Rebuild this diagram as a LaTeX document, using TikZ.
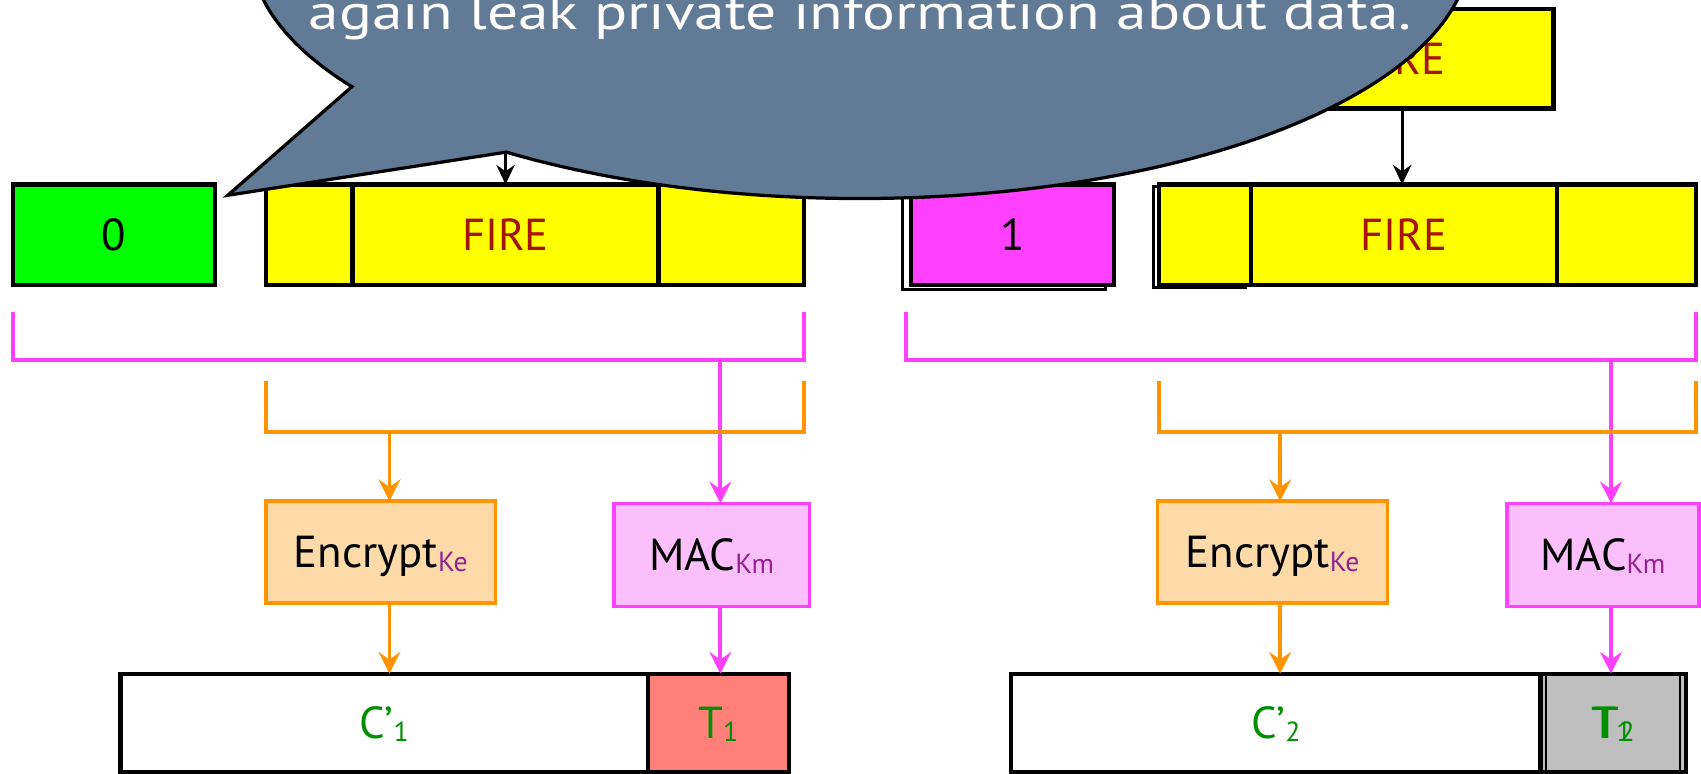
\documentclass[tikz,border=0pt]{standalone}
\usepackage{fontspec}
\setmainfont{PT Sans}
\usetikzlibrary{arrows.meta,calc}

\definecolor{kgreen}{RGB}{0,255,0}
\definecolor{kyellow}{RGB}{255,255,0}
\definecolor{kmagenta}{RGB}{255,64,255}
\definecolor{korange}{RGB}{255,147,0}
\definecolor{kpeach}{RGB}{253,218,168}
\definecolor{kpink}{RGB}{251,191,251}
\definecolor{kred}{RGB}{165,20,0}
\definecolor{ksalmon}{RGB}{255,128,121}
\definecolor{kgray}{RGB}{191,191,191}
\definecolor{kdgreen}{RGB}{0,143,0}
\definecolor{kpurple}{RGB}{148,33,146}
\definecolor{kslate}{RGB}{97,122,150}

\newcommand{\labelfont}{\fontsize{23.5}{28}\selectfont}
\newcommand{\subfont}{\fontsize{14.5}{16}\selectfont}
\newcommand{\bubblefont}{\fontsize{26}{30}\selectfont}
\newcommand{\lowsub}[1]{\raisebox{-0.06cm}{\subfont #1}}

\begin{document}
\begin{tikzpicture}

\useasboundingbox (0,0) rectangle (31.36,14.26);
\clip (0,0) rectangle (31.36,14.26);

\tikzstyle{lbl}=[inner sep=0pt,outer sep=0pt,font=\labelfont,text height=0.58cm,text depth=0pt]
\tikzstyle{blk}=[lbl,draw=black,line width=2.2pt,minimum height=1.86cm]
\tikzstyle{ghost}=[draw=black,line width=1.6pt]
\tikzstyle{encbox}=[lbl,draw=korange,fill=kpeach,line width=1.8pt,minimum width=4.24cm,minimum height=1.88cm]
\tikzstyle{macbox}=[lbl,draw=kmagenta,fill=kpink,line width=1.8pt,minimum height=1.9cm]
\tikzstyle{pinkline}=[kmagenta,line width=2pt]
\tikzstyle{orangeline}=[korange,line width=2pt]
\tikzstyle{blackarrow}=[black,line width=1.5pt,-{Stealth[length=0.36cm,width=0.34cm,inset=0.12cm]}]
\tikzstyle{pinkarrow}=[kmagenta,line width=2pt,-{Stealth[length=0.4cm,width=0.4cm,inset=0.14cm]}]
\tikzstyle{orangearrow}=[korange,line width=2pt,-{Stealth[length=0.4cm,width=0.4cm,inset=0.14cm]}]
\tikzstyle{bubble}=[draw=black,line width=1.7pt,fill=kslate,line join=miter]

% words coming in
\node (topL) [blk,fill=kyellow,text=kred,minimum width=5.64cm,minimum height=1.84cm] at (9.32,13.18) {FIRE};
\node (topR) [blk,fill=kyellow,text=kred,minimum width=5.58cm,minimum height=1.84cm] at (25.85,13.18) {FIRE};

% left record
\node (zero) [blk,fill=kgreen,minimum width=3.72cm] at (2.1,9.93) {0};
\node (fireLa) [blk,fill=kyellow,minimum width=1.6cm] at (5.7,9.93) {};
\node (fireLb) [blk,fill=kyellow,text=kred,minimum width=5.64cm] at (9.32,9.93) {FIRE};
\node (fireLc) [blk,fill=kyellow,minimum width=2.68cm] at (13.48,9.93) {};

% right record
\draw[ghost] (16.64,8.92) rectangle (20.38,10.78);
\node (one) [blk,fill=kmagenta,minimum width=3.74cm] at (18.67,9.93) {1};
\draw[ghost] (21.27,8.96) rectangle (22.97,10.82);
\node (fireRa) [blk,fill=kyellow,minimum width=1.7cm] at (22.21,9.93) {};
\node (fireRb) [blk,fill=kyellow,text=kred,minimum width=5.64cm] at (25.88,9.93) {FIRE};
\node (fireRc) [blk,fill=kyellow,minimum width=2.56cm] at (29.98,9.93) {};

\draw[blackarrow] (topL) -- (fireLb);
\draw[blackarrow] (topR.south) -- (topR.south |- fireRb.north);

% encrypt and mac boxes
\node (encL) [encbox] at (7.02,4.08) {Encrypt\lowsub{\textcolor{kpurple}{Ke}}};
\node (macL) [macbox,minimum width=3.6cm] at (13.12,4.03) {MAC\lowsub{\textcolor{kpurple}{Km}}};
\node (encR) [encbox] at (23.46,4.08) {Encrypt\lowsub{\textcolor{kpurple}{Ke}}};
\node (macR) [macbox,minimum width=3.54cm] at (29.55,4.03) {MAC\lowsub{\textcolor{kpurple}{Km}}};

% outputs
\node (cL) [blk,fill=white,text=kdgreen,minimum width=9.72cm,minimum height=1.81cm] at (7.08,0.935) {C’\lowsub{1}};
\node (tL) [blk,fill=ksalmon,text=kdgreen,minimum width=2.6cm,minimum height=1.81cm] at (13.24,0.935) {T\lowsub{1}};
\node (cR) [blk,fill=white,text=kdgreen,minimum width=9.76cm,minimum height=1.81cm] at (23.52,0.935) {C’\lowsub{2}};
\node (tR) [blk,fill=kgray,minimum width=2.68cm,minimum height=1.81cm] at (29.74,0.935) {};
\draw[ghost,line width=1pt] ([xshift=0.1cm]tR.south west) rectangle ([xshift=-0.1cm]tR.north east);
\node (tRa) [lbl,text=kdgreen] at (29.71,0.935) {T\lowsub{1}};
\node (tRb) [lbl,text=kdgreen] at (29.77,0.935) {T\lowsub{2}};

% mac paths
\coordinate (pjoinL) at (13.28,7.62);
\coordinate (pjoinR) at (29.7,7.62);
\draw[pinkline] ([yshift=-0.5cm]zero.south west) -- ([yshift=-1.38cm]zero.south west) -- ([yshift=-1.38cm]fireLc.south east) -- ([yshift=-0.5cm]fireLc.south east);
\draw[pinkline] ([xshift=-0.1cm,yshift=-0.5cm]one.south west) -- ([xshift=-0.1cm,yshift=-1.38cm]one.south west) -- ([yshift=-1.38cm]fireRc.south east) -- ([yshift=-0.5cm]fireRc.south east);
\draw[pinkarrow] (pjoinL) -- (pjoinL |- macL.north);
\draw[pinkarrow] (pjoinR) -- (pjoinR |- macR.north);
\draw[pinkarrow] (macL.south -| pjoinL) -- (pjoinL |- tL.north);
\draw[pinkarrow] (macR.south -| pjoinR) -- (pjoinR |- tR.north);

% encrypt paths
\coordinate (ojoinL) at (7.18,6.3);
\coordinate (ojoinR) at (23.6,6.3);
\draw[orangeline] ([yshift=-1.76cm]fireLa.south west) -- ([yshift=-2.7cm]fireLa.south west) -- ([yshift=-2.7cm]fireLc.south east) -- ([yshift=-1.76cm]fireLc.south east);
\draw[orangeline] ([yshift=-1.76cm]fireRa.south west) -- ([yshift=-2.7cm]fireRa.south west) -- ([yshift=-2.7cm]fireRc.south east) -- ([yshift=-1.76cm]fireRc.south east);
\draw[orangearrow] (ojoinL) -- (ojoinL |- encL.north);
\draw[orangearrow] (ojoinR) -- (ojoinR |- encR.north);
\draw[orangearrow] (encL.south -| ojoinL) -- (ojoinL |- cL.north);
\draw[orangearrow] (encR.south -| ojoinR) -- (ojoinR |- cR.north);

% speech bubble
\draw[bubble] (15.86,15.2) ++(234.5:11.24 and 4.6) arc[start angle=234.5,end angle=573.5,x radius=11.24,y radius=4.6] -- (4.2,10.66) -- cycle;
\node (msg) [text=white,font=\bubblefont,anchor=base,xscale=1.24] at (15.86,13.71) {again leak private information about data.};

\end{tikzpicture}
\end{document}
